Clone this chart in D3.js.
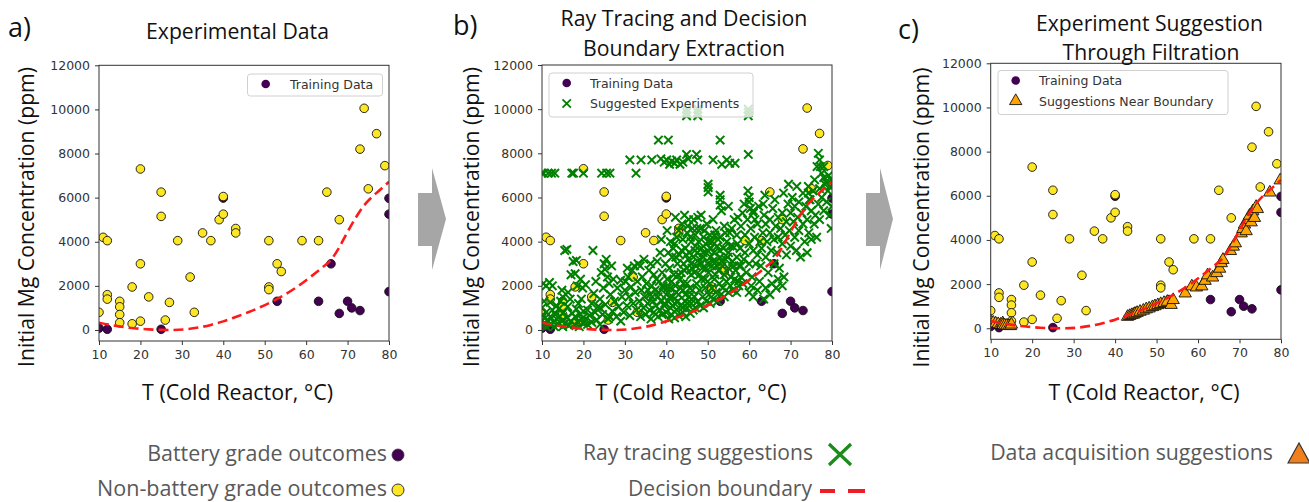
<!DOCTYPE html>
<html><head><meta charset="utf-8">
<script src="https://cdn.jsdelivr.net/npm/d3@7"></script>
<style>body{margin:0;background:#fff}svg{display:block}</style>
</head><body>
<svg id="fig" width="1309" height="502"></svg>
<script>
// ---- data ----
const xTicks = [10, 20, 30, 40, 50, 60, 70, 80];
const yTicks = [0, 2000, 4000, 6000, 8000, 10000, 12000];

// training outcomes [T (°C), initial Mg (ppm)]
const batteryGrade = [[10,80],[12,30],[25,30],[40,5980],[53,1300],[63,1300],[66,3000],[68,750],[70,1300],[71,1000],[73,880],[80,5970],[80,5250],[80,1740]];
const nonBatteryGrade = [[10,800],[11,4200],[12,4050],[12,1600],[12,1400],[15,1300],[15,1050],[15,700],[15,330],[18,1950],[18,280],[20,7300],[20,3000],[20,400],[22,1500],[25,6250],[25,5150],[26,450],[27,1250],[29,4050],[32,2400],[33,800],[35,4400],[37,4050],[39,5000],[40,5250],[40,6050],[43,4600],[43,4400],[51,4050],[51,1950],[51,1830],[53,3000],[54,2650],[59,4050],[63,4050],[65,6250],[68,5000],[73,8200],[74,10050],[75,6400],[77,8900],[79,7450]];

// decision boundary
const boundaryT = [10, 13, 16, 19, 22, 25, 28, 31, 34, 37, 40, 43, 46, 49, 52, 55, 58, 61, 64, 66, 68, 70, 72, 74, 76, 78, 80];
const boundaryV = [330, 220, 130, 70, 25, 5, 0, 30, 110, 230, 390, 590, 800, 1040, 1310, 1620, 1980, 2400, 2850, 3180, 3750, 4450, 5100, 5650, 6050, 6380, 6720];

// ray tracing suggestions
const suggested = [
[10,7100],[10.4,7100],[11.5,7100],[12.3,7100],[13.1,7100],[17.2,7100],[17.6,7100],[20,7100],[24.4,7100],[25.6,7100],[26.4,7100],[32.7,7100],
[31.2,7700],[33.9,7700],[36.5,7700],[38.7,7750],[39.5,7600],[40.1,7700],[40.8,7500],[41.3,7650],[42,7550],[42.5,7700],[43.3,7500],[44,7600],[45.3,7750],[47.6,7700],[51.3,7700],[53.4,7500],[54.6,7700],[55.3,7550],[56.6,7550],[44.9,7950],[47.3,7950],[59.8,7950],
[38.1,8600],[40.5,8600],[53,8600],
[44.9,9700],[44.9,9850],[44.9,10000],[47.6,9700],[47.6,9850],[47.6,10000],[59.8,9700],[59.8,9850],[59.8,10000],
[50.1,6600],[50.1,6450],[50.1,6250],[53,6100],[53,5900],[53,5650],
[59.7,6300],[60,6000],[60,5800],[60.3,5500],[61,5300],[61.4,5000],[63.4,5700],
[69.5,6600],[74.3,6500],[74.3,6200],[74.5,5900],[76.7,8000],[77,7700],[77.2,7400],[77.5,7100],[78,6900],[78.5,6700],[79.5,6500],[79.8,4600],[80,5600],
[10,200],[10,450],[10,650],[10.5,300],[10.8,550],[11,150],[11,800],[11.5,400],[12,250],[12,600],[12.5,900],[12.8,350],[13,150],[13.2,700],[13.5,500],[14,250],[14,950],[14.3,600],[14.8,400],[15,150],[15.2,800],[15.6,300],[16,550],[16.2,1050],[16.5,200],[17,400],[17.3,750],[17.8,250],[18,600],[18.3,950],[18.7,350],[19,150],[19.2,700],[19.6,500],[20,300],[20,850],
[10,1000],[10.5,1300],[10.3,2100],[11,2000],[11.8,2150],[12.5,2000],[14.5,1300],[15,1500],[15.5,3600],[16,3650],[16.8,1400],[17.5,3100],[18,2550],[18.3,3150],[18.5,2000],[19.3,2300],[19.8,1900],[20.5,2050],[17,2500],[13.5,1100],[14.8,1800],[18.8,1200],[19.5,1400],[12,1250],[16.3,1700],
[20.5,500],[21,250],[21,900],[21.5,650],[22,1200],[22,350],[22.5,1650],[22.8,800],[23,2200],[23.2,450],[23.5,1050],[24,1400],[24,250],[24.3,2600],[24.6,700],[24.8,1900],[25,3000],[25.2,2750],[25.3,1150],[25.5,3200],[25.8,2400],[26,500],[26.2,2100],[26.5,1600],[26.8,2900],[27,850],[27.2,2300],[27.5,1300],[28,600],[28.2,1900],[28.5,1050],[29,2250],[29,400],[29.3,1500],[29.7,800],[30,1800],[30.2,2200],[30.5,1100],[30.8,2400],[31,1500],[31.2,650],[31.5,1950],[31.8,2700],[32,1200],[32.3,2900],[32.5,1700],[32.8,900],[33,2200],[33.2,3000],[22.3,3600],[26.3,600],[24,1000],
[33.5,1300],[33.8,600],[34,1800],[34.2,2400],[34.5,1000],[34.8,1500],[35,700],[35.2,2100],[35.5,1200],[35.8,2700],[36,900],[36,1600],[36.3,500],[36.5,2000],[36.8,1300],[37,2500],[37,800],[37.3,1800],[37.5,1100],[37.8,3100],[38,600],[38,1500],[38.3,2200],[38.5,3500],[38.5,900],[38.8,1300],[39,2600],[39,700],[39.3,1900],[39.5,1100],[39.8,3000],[40,1600],[40,800],[40.2,2300],[40.4,1300],[40.6,500],[40.8,2800],[41,1900],[41,1000],[41.2,700],[41.4,3300],[41.5,1500],[41.8,2500],[42,1200],[42,550],[42.2,2000],[42.5,900],[42.7,3000],[43,1600],[43,650],[43.3,2300],[43.5,1100],[43.7,3600],[44,1800],[44,800],[44.3,2700],[44.5,1300],[44.7,600],[45,2100],[45,1000],[45.3,3200],[45.5,1500],[45.8,750],[46,2500],[46,1200],[46.3,1800],[46.5,900],
[42,3900],[42.5,4200],[43,4500],[43.2,3400],[43.8,4800],[44,4100],[44.2,3000],[44.6,3700],[45,4400],[45,2800],[45.4,5000],[45.6,3500],[46,4000],[46,3000],[46.3,4600],[46.6,3300],[46.8,2600],[47,3800],[47,4300],[47.2,2900],[47.5,3500],[47.6,5100],[47.8,4000],[48,3200],[48,2500],[48.2,4600],[48.5,3700],[48.7,2800],[49,4200],[49,3300],[49.3,2300],[49.5,3900],[49.8,4800],[50,3000],[50,3600],[50.2,2600],[50.5,4300],[50.7,3300],[51,2900],[51,4000],[51.3,5000],[51.5,3500],[51.8,2500],[52,4500],[52,3100],[52.3,3800],[52.6,2700],[53,4200],[53,3300],[53.3,5400],[53.5,2900],[53.8,3700],[54,4700],[54,2500],[54.3,3200],[54.6,4000],[55,2800],[55,3500],[55.3,4400],[55.6,2400],[56,3100],[56,3800],[56.4,5000],[56.7,2700],[57,4300],[57,3300],[57.4,2200],[57.8,3700],[58,2900],[58,4700],[58.4,5300],[58.7,3200],
[40.5,3500],[41,4000],[41.7,3700],[42.3,3300],[43.6,2600],[44.8,3400],[45.2,4700],[45.8,4200],[46.2,2800],[46.9,3600],[47.4,4600],[48.3,3000],[48.9,3500],[49.2,4500],[49.6,2800],[50.3,4000],[50.8,3700],[51.2,3100],[51.7,4300],[52.2,2900],[52.5,4100],[52.9,3600],[53.4,3100],[54.2,4400],[54.8,3300],[55.4,3800],[55.8,4600],[56.3,2900],[57.2,3900],[57.6,2900],
[39.6,1200],[40.3,1900],[40.9,1500],[41.6,1100],[42.4,1700],[42.8,1300],[43.4,1900],[43.9,1000],[44.6,1600],[45.2,1200],[45.7,1900],[46.1,1400],[41.3,2200],[42.9,2500],[44.1,2100],[39.2,2000],[38.2,1700],[37.6,2300],[36.6,1500],[35.6,1800],
[30.6,2800],[33.7,2900],[34.6,3200],[36.2,3000],[38.8,4100],[40.2,4500],[42.2,5100],[44.4,5200],[46.6,5000],[48.4,5200],[55,5600],[57.3,5100],[58.8,5700],[63.8,6100],[66.2,5900],[68.3,6200],[71.5,6500],[75.8,6800],[76.4,7400],
[46.8,1500],[47,1000],[47.3,2100],[47.6,1300],[48,1800],[48.2,1100],[48.5,2300],[48.8,1500],[49,1000],[49.4,1900],[49.7,1300],[50,2200],[50.3,1600],[50.6,1200],[51,1900],[51.3,1400],[51.6,2300],[52,1700],[52.4,1300],[52.8,2100],[53.2,1600],[53.6,1900],[54,1500],[54.5,2200],[55,1700],[55.5,2000],[56,1800],[56.5,2300],[57,1700],[57.5,2000],[58,2400],[58.5,2100],
[59,3500],[59,4300],[59.3,2600],[59.6,5000],[60,3900],[60,3000],[60.4,4600],[60.7,2400],[61,3600],[61,5400],[61.3,4200],[61.6,3000],[62,4800],[62,3400],[62.3,5600],[62.6,4000],[62.8,2900],[63,3700],[63.3,4400],[63.6,5200],[64,3300],[64,4800],[64.3,4000],[64.6,2600],[65,4400],[65,5000],[65.3,3600],[65.7,5500],[66,4100],[66,3000],[66.4,4700],[66.7,3500],[67,5100],[67,4200],[67.3,2800],[67.6,4600],[68,3900],[68,5300],[68.4,2400],[68.7,4300],[69,4900],[69,3400],[69.4,5700],[69.7,4500],[70,5300],[70,3800],[70.4,6000],[70.7,4900],[71,5600],[71,4200],[71.4,3600],[71.7,5100],[72,5800],[72,4500],[72.4,3300],[72.7,5300],[73,4800],[73,6200],[73.4,4000],[73.7,5600],[74,3500],[74,5000],[74.4,4400],[74.7,5900],[75,4100],[75,5400],[75.4,6300],[75.7,4800],[76,5200],[76.3,4200],[76.7,5700],[77,6400],[77,5000],[77.5,6000],[78,5400],[78,7400],[78.3,6600],[78.7,5800],[79,6300],[79.2,7000],[79.5,5200],[79.8,6800],
[60,1700],[60.5,2000],[61,1500],[62,1800],[62.5,2200],[63.5,1400],[64,1900],[65,1600],[65.5,2100],[66.5,1900],[67,2300],[68,2000]
];

// filtered suggestions close to the boundary
const nearBoundary = [
[10,300],[10.6,260],[11.2,220],[11.8,190],[12.4,170],[12.9,230],[13,150],[13.4,130],[13.9,120],[14.4,110],[14.8,100],[15,170],
[43,520],[43.5,560],[44,600],[44.4,620],[44.8,660],[45.3,700],[46,750],[46.8,800],[47.5,860],[48.2,900],[49,960],[49.6,1000],[50.3,1050],[51,1100],[51.8,1150],[52.6,1200],[53.5,1060],[54,1280],
[56.9,1580],[58.5,1900],[59.6,1850],[60.9,1900],[61.7,2150],[62.3,2400],[63.5,2300],[64.5,2500],[65.2,2700],[65.6,2950],[66,3100],[67.8,3500],[68.5,3700],[69,3850],[70.4,4300],[70.8,4500],[71.2,4700],[71.6,4400],[72,4900],[72.4,5100],[72.8,4800],[73.2,5300],[73.6,5000],[74,5500],[74.3,5400],[77.3,6150],[79.8,6700]
];

// ---- drawing ----
const svg = d3.select('#fig');
const PURPLE = '#440154', YELLOW = '#fde725', GREEN = '#008000', ORANGE = '#ffa500';
const TEXTFONT = "'Open Sans', sans-serif";
const TICKFONT = "'DejaVu Sans', sans-serif";

function fitText(sel, width) {
  const w = sel.node().getComputedTextLength();
  const fs = parseFloat(sel.attr('font-size'));
  sel.attr('font-size', (fs * width / w).toFixed(2));
  return sel;
}

const xMark = 'M-4.2,-4.2L4.2,4.2M-4.2,4.2L4.2,-4.2';
const triSym = d3.symbol(d3.symbolTriangle, 66);

function panel(cfg, id) {
  const x = d3.scaleLinear().domain([10, 80]).range([cfg.left, cfg.right]);
  const y = d3.scaleLinear().domain([-500, 12000]).range([cfg.bottom, cfg.top]);
  const g = svg.append('g');

  g.append('clipPath').attr('id', 'clip' + id).append('rect')
    .attr('x', cfg.left).attr('y', cfg.top)
    .attr('width', cfg.right - cfg.left).attr('height', cfg.bottom - cfg.top);

  const styleAxis = ax => {
    ax.select('.domain').remove();
    ax.selectAll('line').attr('stroke', '#333').attr('stroke-width', 1);
    ax.selectAll('text').attr('font-family', TICKFONT).attr('font-size', 12.5).attr('fill', '#333');
  };
  g.append('g').attr('transform', `translate(0,${cfg.bottom})`)
    .call(d3.axisBottom(x).tickValues(xTicks).tickFormat(d3.format('d')).tickSize(4).tickPadding(5))
    .call(styleAxis);
  g.append('g').attr('transform', `translate(${cfg.left},0)`)
    .call(d3.axisLeft(y).tickValues(yTicks).tickFormat(d3.format('d')).tickSize(4).tickPadding(5))
    .call(styleAxis);

  const plot = g.append('g').attr('clip-path', `url(#clip${id})`);

  const dot = (data, fill) => plot.append('g').selectAll('circle').data(data).join('circle')
    .attr('cx', d => x(d[0])).attr('cy', d => y(d[1])).attr('r', 4.3)
    .attr('fill', fill).attr('stroke', '#111').attr('stroke-width', 0.9);
  dot(batteryGrade, PURPLE);
  dot(nonBatteryGrade, YELLOW);

  if (cfg.suggested) {
    plot.append('g').selectAll('path').data(suggested).join('path')
      .attr('d', xMark).attr('transform', d => `translate(${x(d[0])},${y(d[1])})`)
      .attr('fill', 'none').attr('stroke', GREEN).attr('stroke-width', 2);
  }
  if (cfg.filtered) {
    plot.append('g').selectAll('path').data(nearBoundary).join('path')
      .attr('d', triSym).attr('transform', d => `translate(${x(d[0])},${y(d[1])})`)
      .attr('fill', ORANGE).attr('stroke', '#111').attr('stroke-width', 0.9);
  }

  const line = d3.line().x(d => x(d[0])).y(d => y(d[1])).curve(d3.curveMonotoneX);
  plot.append('path').datum(boundaryT.map((t, i) => [t, boundaryV[i]]))
    .attr('d', line).attr('fill', 'none').attr('stroke', '#ff1a1a')
    .attr('stroke-width', 2.6).attr('stroke-dasharray', '10,5');

  g.append('rect').attr('x', cfg.left).attr('y', cfg.top)
    .attr('width', cfg.right - cfg.left).attr('height', cfg.bottom - cfg.top)
    .attr('fill', 'none').attr('stroke', '#333').attr('stroke-width', 1);

  // in-axes legend
  const L = cfg.legend;
  g.append('rect').attr('x', L.x).attr('y', L.y).attr('width', L.w).attr('height', L.h)
    .attr('rx', 3).attr('fill', '#fff').attr('fill-opacity', 0.8)
    .attr('stroke', '#d0d0d0').attr('stroke-width', 1);
  L.rows.forEach((r, i) => {
    const cy = L.y + 10 + i * 20.5;
    if (r.kind === 'dot') g.append('circle').attr('cx', L.mx).attr('cy', cy).attr('r', 4.3).attr('fill', PURPLE);
    if (r.kind === 'x') g.append('path').attr('d', xMark).attr('transform', `translate(${L.mx},${cy})`)
      .attr('fill', 'none').attr('stroke', GREEN).attr('stroke-width', 1.8);
    if (r.kind === 'tri') g.append('path').attr('d', triSym).attr('transform', `translate(${L.mx},${cy})`)
      .attr('fill', ORANGE).attr('stroke', '#111').attr('stroke-width', 0.9);
    g.append('text').attr('x', L.tx).attr('y', cy + 4.5).text(r.label)
      .attr('font-family', TICKFONT).attr('font-size', 12.5).attr('fill', '#333');
  });

  // letters, titles, axis labels
  g.append('text').attr('x', cfg.letter[0]).attr('y', cfg.letter[1]).text(cfg.letter[2])
    .attr('font-family', TEXTFONT).attr('font-size', 27).attr('fill', '#111');
  cfg.title.forEach(tl => {
    fitText(g.append('text').attr('x', tl[0]).attr('y', tl[1]).attr('text-anchor', 'middle').text(tl[2])
      .attr('font-family', TEXTFONT).attr('font-size', 19).attr('fill', '#111'), tl[3]);
  });
  fitText(g.append('text').attr('transform', `translate(${cfg.ylab[0]},${cfg.ylab[1]}) rotate(-90)`)
    .attr('text-anchor', 'middle').text('Initial Mg Concentration (ppm)')
    .attr('font-family', TEXTFONT).attr('font-size', 21).attr('fill', '#111'), 300);
  fitText(g.append('text').attr('x', cfg.xlab[0]).attr('y', cfg.xlab[1]).attr('text-anchor', 'middle')
    .text('T (Cold Reactor, °C)').attr('font-family', TEXTFONT).attr('font-size', 21).attr('fill', '#111'), 191);
}

panel({left: 99, right: 389, top: 65.3, bottom: 341,
  letter: [8, 37, 'a)'], title: [[237.5, 38.5, 'Experimental Data', 183]],
  ylab: [34, 217], xlab: [237.5, 400],
  legend: {x: 247.5, y: 74, w: 135, h: 22, mx: 265.7, tx: 290, rows: [{kind: 'dot', label: 'Training Data'}]}
}, 'a');

panel({left: 542, right: 832, top: 65, bottom: 341, suggested: true,
  letter: [453, 35, 'b)'], title: [[684, 26, 'Ray Tracing and Decision', 247], [684, 56, 'Boundary Extraction', 202]],
  ylab: [479, 217], xlab: [691, 400],
  legend: {x: 549, y: 73, w: 204, h: 44, mx: 566.7, tx: 590,
    rows: [{kind: 'dot', label: 'Training Data'}, {kind: 'x', label: 'Suggested Experiments'}]}
}, 'b');

panel({left: 990.7, right: 1281, top: 63.3, bottom: 339.3, filtered: true,
  letter: [898, 39, 'c)'], title: [[1149.5, 31, 'Experiment Suggestion', 227], [1151, 60, 'Through Filtration', 177]],
  ylab: [929, 217.5], xlab: [1144, 400],
  legend: {x: 998, y: 70.5, w: 230, h: 44, mx: 1015.7, tx: 1039,
    rows: [{kind: 'dot', label: 'Training Data'}, {kind: 'tri', label: 'Suggestions Near Boundary'}]}
}, 'c');

// process arrows between panels
[[418, 432, 446], [866, 880, 893]].forEach(a => {
  svg.append('polygon')
    .attr('points', [[a[0], 193], [a[1], 193], [a[1], 168], [a[2], 219], [a[1], 270], [a[1], 246], [a[0], 246]].join(' '))
    .attr('fill', '#a6a6a6');
});

// explanatory key under the panels
const key = svg.append('g').attr('font-family', TEXTFONT).attr('fill', '#595959');
const keyText = (xr, yb, s, w) => fitText(key.append('text').attr('x', xr).attr('y', yb)
  .attr('text-anchor', 'end').attr('font-size', 19.5).text(s), w);
keyText(387, 460.5, 'Battery grade outcomes', 240);
keyText(387, 496, 'Non-battery grade outcomes', 290);
key.append('circle').attr('cx', 398).attr('cy', 455).attr('r', 6).attr('fill', PURPLE).attr('stroke', '#333').attr('stroke-width', 0.8);
key.append('circle').attr('cx', 398).attr('cy', 490).attr('r', 6).attr('fill', YELLOW).attr('stroke', '#333').attr('stroke-width', 1);

keyText(813, 459.5, 'Ray tracing suggestions', 230);
keyText(812, 496, 'Decision boundary', 184);
key.append('path').attr('d', 'M829,444L851,465M829,465L851,444').attr('stroke', '#1a8c1a').attr('stroke-width', 3.2).attr('fill', 'none');
key.append('path').attr('d', 'M820,491H835M848,491H865').attr('stroke', '#ee1c24').attr('stroke-width', 4).attr('fill', 'none');

keyText(1273, 460, 'Data acquisition suggestions', 283);
key.append('polygon').attr('points', '1288,463 1299,443 1310,463').attr('fill', '#f07f1e').attr('stroke', '#333').attr('stroke-width', 1.2);
</script>
</body></html>
